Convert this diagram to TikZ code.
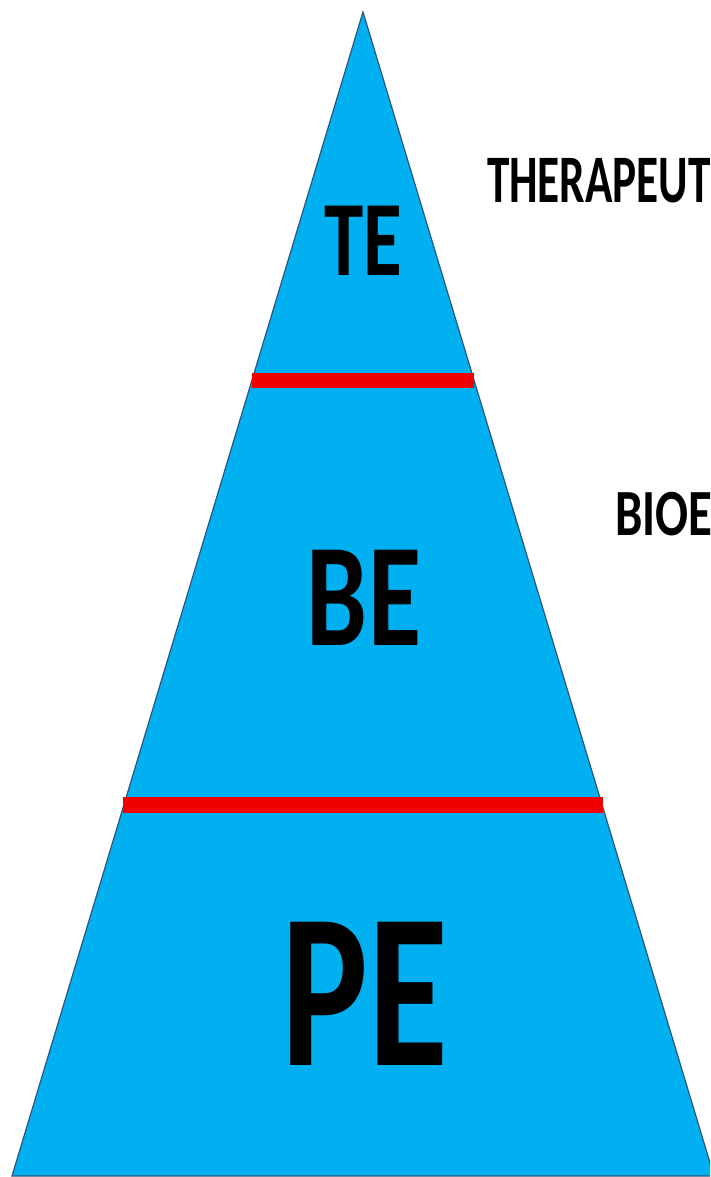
\documentclass[tikz,border=0pt]{standalone}
\usepackage{fontspec}
\setmainfont{Carlito}
\definecolor{pyrblue}{RGB}{0,176,240}
\definecolor{pyredge}{RGB}{45,85,125}
\definecolor{pyrred}{RGB}{240,0,0}
\tikzset{
  lbl/.style={inner sep=0pt, outer sep=0pt, text=black, font=\bfseries, xscale=0.74},
  divider/.style={draw=pyrred, line cap=butt},
}
\begin{document}
\begin{tikzpicture}[x=1pt,y=-1pt]
\useasboundingbox (0,0) rectangle (710,1177);
\clip (0,0) rectangle (710,1177);
\fill[white] (0,0) rectangle (710,1177);
% pyramid
\coordinate (apex) at (363,12);
\coordinate (bl) at (12,1176);
\coordinate (br) at (714,1176);
\filldraw[fill=pyrblue, draw=pyredge, line width=1.2pt, line join=miter] (apex) -- (bl) -- (br) -- cycle;
% dividers
\coordinate (d1l) at (252,380);
\coordinate (d1r) at (474,380);
\coordinate (d2l) at (123,805);
\coordinate (d2r) at (603,805);
\draw[divider, line width=15pt] (d1l) -- (d1r);
\draw[divider, line width=16pt] (d2l) -- (d2r);
% labels inside
\node[lbl, anchor=base, font=\fontsize{107}{107}\selectfont\bfseries] (te) at (363,275) {TE};
\node[lbl, anchor=base, font=\fontsize{147}{147}\selectfont\bfseries] (be) at (364,645) {BE};
\node[lbl, anchor=base, font=\fontsize{221}{221}\selectfont\bfseries] (pe) at (365,1065) {PE};
% labels at the right edge, as far as the reference shows them
\node[lbl, xscale=0.665/0.74, anchor=base west, font=\fontsize{68}{68}\selectfont\bfseries] (ther) at (487,203) {THERAPEUT};
\node[lbl, anchor=base west, font=\fontsize{66}{66}\selectfont\bfseries] (bio) at (615,535) {BIOE};
\end{tikzpicture}
\end{document}
